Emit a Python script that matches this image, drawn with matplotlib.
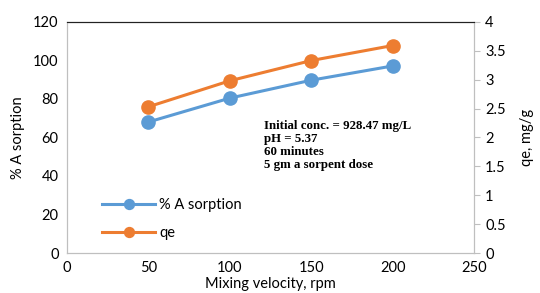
import matplotlib
matplotlib.use('Agg')
import matplotlib.pyplot as plt

# mixing velocity data
velocity = [50, 100, 150, 200]
sorption = [68.0, 80.4, 89.7, 97.1]
qe = [2.53, 2.98, 3.33, 3.59]

blue = '#5B9BD5'
orange = '#ED7D31'
grey = '#BFBFBF'

plt.rcParams['font.family'] = ['Lato', 'DejaVu Sans']

fig = plt.figure(figsize=(5.4, 2.93), dpi=100, facecolor='white')
ax = fig.add_axes([0.124, 0.1365, 0.754, 0.789])
ax2 = ax.twinx()

l1, = ax.plot(velocity, sorption, color=blue, lw=2.2, marker='o', ms=9.5, label='% A sorption')
l2, = ax2.plot(velocity, qe, color=orange, lw=2.2, marker='o', ms=9.5, label='qe')

ax.set_xlim(0, 250)
ax.set_ylim(0, 120)
ax2.set_ylim(0, 4)
ax.set_xticks([0, 50, 100, 150, 200, 250])
ax.set_yticks(range(0, 121, 20))
ax2.set_yticks([0, 0.5, 1, 1.5, 2, 2.5, 3, 3.5, 4])
ax2.set_yticklabels(['0', '0.5', '1', '1.5', '2', '2.5', '3', '3.5', '4'])

# spines: grey box with dark top edge
for a in (ax, ax2):
    for s in ('left', 'right', 'bottom'):
        a.spines[s].set_color(grey)
    a.spines['top'].set_color('#222222')
ax.tick_params(axis='both', length=0, labelsize=10.5, pad=6)
ax2.tick_params(axis='y', length=4, color=grey, labelsize=10.5, pad=4)

ax.set_xlabel('Mixing velocity, rpm', fontsize=10.5, labelpad=1)
ax.set_ylabel('% A sorption', fontsize=10.5, labelpad=6)
ax2.set_ylabel('qe, mg/g', fontsize=10.5, labelpad=10)

ax.legend(handles=[l1, l2], loc='lower left', bbox_to_anchor=(0.055, 0.0), frameon=False,
          fontsize=10.5, handlelength=3.6, handletextpad=0.3, labelspacing=0.95,
          markerscale=0.75)

ax.text(0.483, 0.575,
        'Initial conc. = 928.47 mg/L\npH = 5.37\n60 minutes\n5 gm a sorpent dose',
        transform=ax.transAxes, family='Liberation Serif', fontweight='bold',
        fontsize=9.3, linespacing=1.12, va='top', ha='left')

fig.savefig('out.png', dpi=100, facecolor='white')
